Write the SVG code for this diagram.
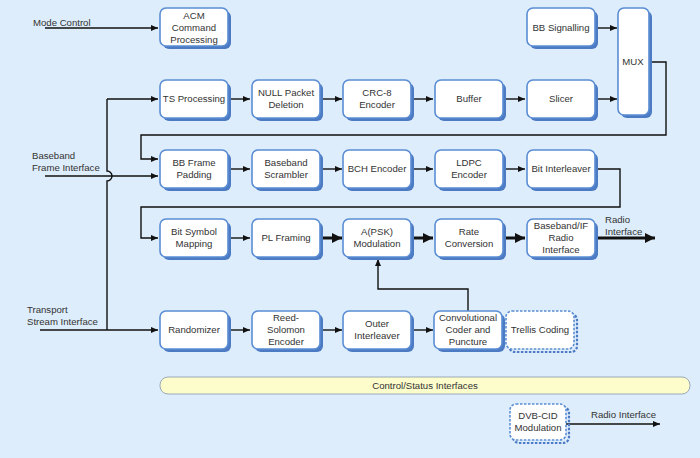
<svg xmlns="http://www.w3.org/2000/svg" width="700" height="458" viewBox="0 0 700 458">
<style>
.bg{fill:#deedfb}
.sh{fill:#4c7bc4}
.bx{fill:#ffffff;stroke:#5a8dd4;stroke-width:1.6}
.dsh{fill:none;stroke:#4c7bc4;stroke-width:2.2;stroke-dasharray:2.5 1.5}
.dbx{fill:#ffffff;stroke:#5a8dd4;stroke-width:1.6;stroke-dasharray:2.5 1.5}
text{font-family:"Liberation Sans",Arial,sans-serif;font-size:9.6px;fill:#333333}
.c{text-anchor:middle}
.ln{fill:none;stroke:#111111;stroke-width:1.4}
.tk{fill:none;stroke:#111111;stroke-width:3}
</style>
<defs>
<marker id="a" markerUnits="userSpaceOnUse" markerWidth="8" markerHeight="8" refX="7" refY="4" orient="auto"><path d="M0,1 L7,4 L0,7 Z" fill="#111"/></marker>
<marker id="b" markerUnits="userSpaceOnUse" markerWidth="12" markerHeight="12" refX="10" refY="6" orient="auto"><path d="M0,1 L10,6 L0,11 Z" fill="#111"/></marker>
</defs>
<rect class="bg" x="0" y="0" width="700" height="458"/>

<g id="connectors">
<path class="ln" d="M45,28 H158" marker-end="url(#a)"/>
<path class="ln" d="M107,99 H158" marker-end="url(#a)"/>
<path class="ln" d="M107,99 V171 A5,5 0 0 1 107,181 V330"/>
<path class="ln" d="M45,176 H158" marker-end="url(#a)"/>
<path class="ln" d="M40,330 H158" marker-end="url(#a)"/>
<path class="ln" d="M228,99 H250" marker-end="url(#a)"/>
<path class="ln" d="M320,99 H342" marker-end="url(#a)"/>
<path class="ln" d="M411,99 H433" marker-end="url(#a)"/>
<path class="ln" d="M503,99 H525" marker-end="url(#a)"/>
<path class="ln" d="M595,99 H617" marker-end="url(#a)"/>
<path class="ln" d="M595,28 H617" marker-end="url(#a)"/>
<path class="ln" d="M650,62 H666 V135 H141 V159 H158" marker-end="url(#a)"/>
<path class="ln" d="M228,169 H250" marker-end="url(#a)"/>
<path class="ln" d="M320,169 H342" marker-end="url(#a)"/>
<path class="ln" d="M411,169 H433" marker-end="url(#a)"/>
<path class="ln" d="M503,169 H525" marker-end="url(#a)"/>
<path class="ln" d="M595,169 H620 V207 H141 V238 H158" marker-end="url(#a)"/>
<path class="ln" d="M228,238 H250" marker-end="url(#a)"/>
<path class="tk" d="M320,238 H342" marker-end="url(#b)"/>
<path class="tk" d="M411,238 H433" marker-end="url(#b)"/>
<path class="tk" d="M503,238 H525" marker-end="url(#b)"/>
<path class="tk" d="M595,238 H655" marker-end="url(#b)"/>
<path class="ln" d="M228,330 H250" marker-end="url(#a)"/>
<path class="ln" d="M320,330 H342" marker-end="url(#a)"/>
<path class="ln" d="M411,330 H433" marker-end="url(#a)"/>
<path class="ln" d="M468,311 V289 H378 V259" marker-end="url(#a)"/>
<path class="ln" d="M566,424 H660" marker-end="url(#a)"/>
</g>

<g id="labels">
<text x="33" y="26">Mode Control</text>
<text x="32" y="159">Baseband</text>
<text x="32" y="171">Frame Interface</text>
<text x="27" y="313">Transport</text>
<text x="27" y="325">Stream Interface</text>
<text x="605" y="223">Radio</text>
<text x="605" y="235">Interface</text>
<text x="591" y="418">Radio Interface</text>
</g>

<g id="acm"><rect class="sh" x="163" y="11" width="68" height="38" rx="6"/><rect class="bx" x="160" y="8" width="68" height="38" rx="6"/><text class="c" x="194" y="19">ACM</text><text class="c" x="194" y="31">Command</text><text class="c" x="194" y="43">Processing</text></g>
<g id="bbsig"><rect class="sh" x="530" y="11" width="68" height="38" rx="6"/><rect class="bx" x="527" y="8" width="68" height="38" rx="6"/><text class="c" x="561" y="31">BB Signalling</text></g>
<g id="mux"><rect class="sh" x="621" y="11" width="31" height="107" rx="6"/><rect class="bx" x="618" y="8" width="31" height="107" rx="6"/><text class="c" x="633" y="65">MUX</text></g>

<g id="ts"><rect class="sh" x="163" y="83" width="68" height="38" rx="6"/><rect class="bx" x="160" y="80" width="68" height="38" rx="6"/><text class="c" x="194" y="102">TS Processing</text></g>
<g id="null"><rect class="sh" x="255" y="83" width="68" height="38" rx="6"/><rect class="bx" x="252" y="80" width="68" height="38" rx="6"/><text class="c" x="286" y="96">NULL Packet</text><text class="c" x="286" y="108">Deletion</text></g>
<g id="crc"><rect class="sh" x="346" y="83" width="68" height="38" rx="6"/><rect class="bx" x="343" y="80" width="68" height="38" rx="6"/><text class="c" x="377" y="96">CRC-8</text><text class="c" x="377" y="108">Encoder</text></g>
<g id="buffer"><rect class="sh" x="438" y="83" width="68" height="38" rx="6"/><rect class="bx" x="435" y="80" width="68" height="38" rx="6"/><text class="c" x="469" y="102">Buffer</text></g>
<g id="slicer"><rect class="sh" x="530" y="83" width="68" height="38" rx="6"/><rect class="bx" x="527" y="80" width="68" height="38" rx="6"/><text class="c" x="561" y="102">Slicer</text></g>

<g id="bbpad"><rect class="sh" x="163" y="153" width="68" height="38" rx="6"/><rect class="bx" x="160" y="150" width="68" height="38" rx="6"/><text class="c" x="194" y="166">BB Frame</text><text class="c" x="194" y="178">Padding</text></g>
<g id="scram"><rect class="sh" x="255" y="153" width="68" height="38" rx="6"/><rect class="bx" x="252" y="150" width="68" height="38" rx="6"/><text class="c" x="286" y="166">Baseband</text><text class="c" x="286" y="178">Scrambler</text></g>
<g id="bch"><rect class="sh" x="346" y="153" width="68" height="38" rx="6"/><rect class="bx" x="343" y="150" width="68" height="38" rx="6"/><text class="c" x="377" y="172">BCH Encoder</text></g>
<g id="ldpc"><rect class="sh" x="438" y="153" width="68" height="38" rx="6"/><rect class="bx" x="435" y="150" width="68" height="38" rx="6"/><text class="c" x="469" y="166">LDPC</text><text class="c" x="469" y="178">Encoder</text></g>
<g id="bitint"><rect class="sh" x="530" y="153" width="68" height="38" rx="6"/><rect class="bx" x="527" y="150" width="68" height="38" rx="6"/><text class="c" x="561" y="172">Bit Interleaver</text></g>

<g id="bsm"><rect class="sh" x="163" y="222" width="68" height="38" rx="6"/><rect class="bx" x="160" y="219" width="68" height="38" rx="6"/><text class="c" x="194" y="235">Bit Symbol</text><text class="c" x="194" y="247">Mapping</text></g>
<g id="plf"><rect class="sh" x="255" y="222" width="68" height="38" rx="6"/><rect class="bx" x="252" y="219" width="68" height="38" rx="6"/><text class="c" x="286" y="241">PL Framing</text></g>
<g id="apsk"><rect class="sh" x="346" y="222" width="68" height="38" rx="6"/><rect class="bx" x="343" y="219" width="68" height="38" rx="6"/><text class="c" x="377" y="235">A(PSK)</text><text class="c" x="377" y="247">Modulation</text></g>
<g id="rate"><rect class="sh" x="438" y="222" width="68" height="38" rx="6"/><rect class="bx" x="435" y="219" width="68" height="38" rx="6"/><text class="c" x="469" y="235">Rate</text><text class="c" x="469" y="247">Conversion</text></g>
<g id="bbif"><rect class="sh" x="530" y="222" width="68" height="38" rx="6"/><rect class="bx" x="527" y="219" width="68" height="38" rx="6"/><text class="c" x="561" y="229">Baseband/IF</text><text class="c" x="561" y="241">Radio</text><text class="c" x="561" y="253">Interface</text></g>

<g id="rand"><rect class="sh" x="163" y="314" width="68" height="38" rx="6"/><rect class="bx" x="160" y="311" width="68" height="38" rx="6"/><text class="c" x="194" y="333">Randomizer</text></g>
<g id="rs"><rect class="sh" x="255" y="314" width="68" height="38" rx="6"/><rect class="bx" x="252" y="311" width="68" height="38" rx="6"/><text class="c" x="286" y="321">Reed-</text><text class="c" x="286" y="333">Solomon</text><text class="c" x="286" y="345">Encoder</text></g>
<g id="outer"><rect class="sh" x="346" y="314" width="68" height="38" rx="6"/><rect class="bx" x="343" y="311" width="68" height="38" rx="6"/><text class="c" x="377" y="327">Outer</text><text class="c" x="377" y="339">Interleaver</text></g>
<g id="conv"><rect class="sh" x="437" y="314" width="68" height="38" rx="6"/><rect class="bx" x="434" y="311" width="68" height="38" rx="6"/><text class="c" x="468" y="321">Convolutional</text><text class="c" x="468" y="333">Coder and</text><text class="c" x="468" y="345">Puncture</text></g>
<g id="trellis"><rect class="dsh" x="509" y="314" width="68" height="38" rx="6"/><rect class="dbx" x="506" y="311" width="68" height="38" rx="6"/><text class="c" x="540" y="333">Trellis Coding</text></g>

<g id="ctrl"><rect x="160" y="377" width="530" height="17" rx="8" fill="#fdfdcc" stroke="#9aa8b8" stroke-width="1"/><text class="c" x="425" y="389">Control/Status Interfaces</text></g>

<g id="dvbcid"><rect class="dsh" x="513" y="407" width="56" height="36" rx="6"/><rect class="dbx" x="510" y="404" width="56" height="36" rx="6"/><text class="c" x="538" y="419">DVB-CID</text><text class="c" x="538" y="431">Modulation</text></g>
</svg>
